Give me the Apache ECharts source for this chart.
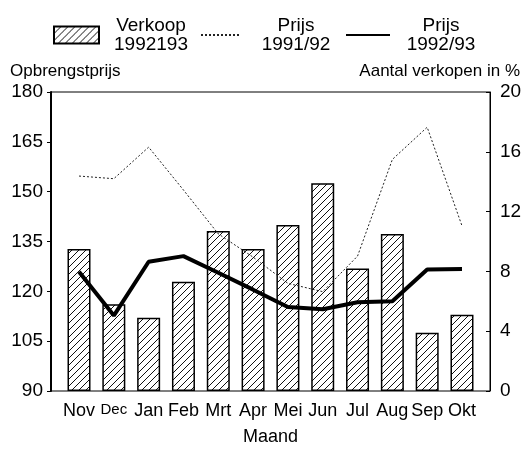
<!DOCTYPE html>
<html>
<head>
<meta charset="utf-8">
<script src="https://cdn.jsdelivr.net/npm/echarts@6/dist/echarts.min.js"></script>
<style>
html,body{margin:0;padding:0;background:#fff;}
#chart{width:526px;height:459px;}
</style>
</head>
<body>
<div id="chart"></div>
<script>
var months = ['Nov','Dec','Jan','Feb','Mrt','Apr','Mei','Jun','Jul','Aug','Sep','Okt'];
var verkoop = [9.5, 5.8, 4.9, 7.3, 10.7, 9.5, 11.1, 13.9, 8.2, 10.5, 3.9, 5.1];
var prijs9192 = [154.7, 153.9, 163.4, 150.5, 137.3, 130.3, 122.4, 119.9, 130.6, 159.7, 169.4, 139.7];
var prijs9293 = [125.9, 112.7, 128.9, 130.6, 125.6, 120.5, 115.3, 114.6, 116.7, 117.0, 126.6, 126.7];
var leftTicks = {min: 90, max: 180, interval: 15};
var rightTicks = {min: 0, max: 20, interval: 4};

// hatch pattern
var pc = document.createElement('canvas');
pc.width = 7; pc.height = 7;
var g = pc.getContext('2d');
g.fillStyle = '#fff'; g.fillRect(0,0,7,7);
g.strokeStyle = '#111'; g.lineWidth = 1;
g.beginPath();
g.moveTo(0,7); g.lineTo(7,0);
g.moveTo(-1,1); g.lineTo(1,-1);
g.moveTo(6,8); g.lineTo(8,6);
g.stroke();
var hatch = {image: pc, repeat: 'repeat'};

var font = 'Liberation Sans, Arial, sans-serif';
var chart = echarts.init(document.getElementById('chart'), null, {renderer: 'canvas'});
var legendText = function (w) {
  return {
    fontFamily: font, fontSize: 19, color: '#000', lineHeight: 19,
    rich: {a: {fontFamily: font, fontSize: 19, color: '#000', lineHeight: 19, width: w, align: 'center'}}
  };
};
chart.setOption({
  animation: false,
  backgroundColor: '#fff',
  textStyle: {fontFamily: font},
  legend: [
    {data: [{name: 'Verkoop 1992193', icon: 'rect'}], left: 48, top: 11, itemWidth: 45, itemHeight: 17,
     formatter: function(){return '{a|Verkoop}\n{a|1992193}';}, textStyle: legendText(94)},
    {data: ['Prijs 1991/92'], left: 195, top: 11, itemWidth: 40, itemHeight: 17,
     itemStyle: {opacity: 0},
     formatter: function(){return '{a|Prijs}\n{a|1991/92}';}, textStyle: legendText(100)},
    {data: ['Prijs 1992/93'], left: 340, top: 11, itemWidth: 44, itemHeight: 17,
     itemStyle: {opacity: 0},
     formatter: function(){return '{a|Prijs}\n{a|1992/93}';}, textStyle: legendText(92)}
  ],
  grid: [
    {left: 51, right: 36, top: 92, bottom: 68, show: true, borderColor: '#000', borderWidth: 1, backgroundColor: 'transparent'},
    {left: 61.6, right: 46.6, top: 92, bottom: 68}
  ],
  xAxis: [
    {gridIndex: 0, type: 'value', min: 0, max: 1, show: false},
    {gridIndex: 1, type: 'category', data: months,
     axisLine: {show: false}, axisTick: {show: false},
     axisLabel: {color: '#000', fontSize: 18, fontFamily: font, margin: 11, interval: 0,
       formatter: function(v){ return v === 'Dec' ? '{s|Dec}' : v; },
       rich: {s: {fontSize: 15, fontFamily: font, color: '#000'}}},
     name: 'Maand', nameLocation: 'middle', nameGap: 37,
     nameTextStyle: {color: '#000', fontSize: 18, fontFamily: font}}
  ],
  yAxis: [
    {gridIndex: 0, type: 'value', position: 'left', min: leftTicks.min, max: leftTicks.max, interval: leftTicks.interval,
     axisLine: {show: true, lineStyle: {color: '#000', width: 2}},
     axisTick: {show: true, length: 4, lineStyle: {color: '#000'}},
     splitLine: {show: false},
     axisLabel: {color: '#000', fontSize: 19, fontFamily: font, margin: 8},
     name: 'Opbrengstprijs', nameLocation: 'end', nameGap: 12,
     nameTextStyle: {color: '#000', fontSize: 17, fontFamily: font, align: 'left', padding: [0, 0, 0, -41]}},
    {gridIndex: 0, type: 'value', position: 'right', min: rightTicks.min, max: rightTicks.max, interval: rightTicks.interval,
     axisLine: {show: true, lineStyle: {color: '#000', width: 1}},
     axisTick: {show: true, inside: true, length: 4, lineStyle: {color: '#000'}},
     splitLine: {show: false},
     axisLabel: {color: '#000', fontSize: 19, fontFamily: font, margin: 10},
     name: 'Aantal verkopen in %', nameLocation: 'end', nameGap: 12,
     nameTextStyle: {color: '#000', fontSize: 17, fontFamily: font, align: 'right', padding: [0, -30, 0, 0]}},
    {gridIndex: 1, type: 'value', min: leftTicks.min, max: leftTicks.max, show: false, splitLine: {show: false}},
    {gridIndex: 1, type: 'value', min: rightTicks.min, max: rightTicks.max, show: false, splitLine: {show: false}}
  ],
  series: [
    {name: 'Verkoop 1992193', type: 'bar', xAxisIndex: 1, yAxisIndex: 3, data: verkoop, barWidth: 23,
     itemStyle: {color: hatch, borderColor: '#000', borderWidth: 1.5}, z: 2},
    {name: 'Prijs 1991/92', type: 'line', xAxisIndex: 1, yAxisIndex: 2, data: prijs9192, symbol: 'none',
     lineStyle: {color: '#222', width: 1, type: [2, 2]}, itemStyle: {color: '#222'}, z: 3},
    {name: 'Prijs 1992/93', type: 'line', xAxisIndex: 1, yAxisIndex: 2, data: prijs9293, symbol: 'none',
     lineStyle: {color: '#000', width: 4}, itemStyle: {color: '#000'}, z: 4}
  ]
});
</script>
</body>
</html>
